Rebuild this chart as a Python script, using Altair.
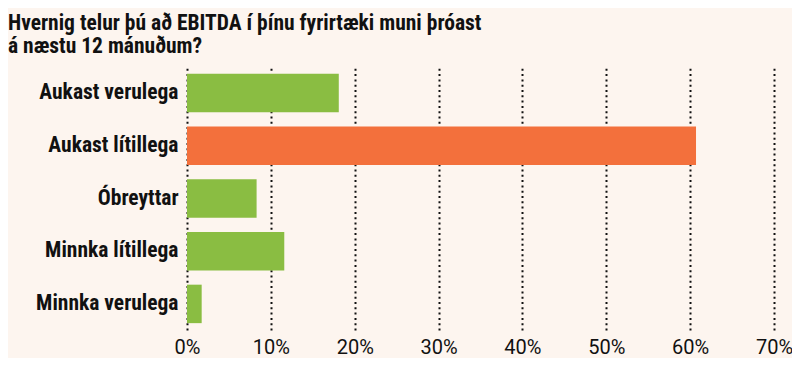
import altair as alt
import pandas as pd

categories = ["Aukast verulega", "Aukast lítillega", "Óbreyttar", "Minnka lítillega", "Minnka verulega"]
values = [0.181, 0.607, 0.083, 0.116, 0.0175]
highlight = [False, True, False, False, False]
ticks = [0, 0.1, 0.2, 0.3, 0.4, 0.5, 0.6, 0.7]
title_lines = ["Hvernig telur þú að EBITDA í þínu fyrirtæki muni þróast", "á næstu 12 mánuðum?"]

df = pd.DataFrame({"cat": categories, "val": values, "hl": highlight})

FONT = "Roboto Condensed, Roboto, sans-serif"
FONT_X = "Roboto, sans-serif"
BG = "#fdf5ef"

chart = alt.Chart(df).mark_bar().encode(
    y=alt.Y("cat:N", sort=categories, title=None,
            scale=alt.Scale(paddingInner=0.27, paddingOuter=0.13),
            axis=alt.Axis(labelFont=FONT, labelFontSize=21.5, labelFontWeight="bold",
                          labelColor="#111111", labelPadding=9, ticks=False, domain=False, grid=False)),
    x=alt.X("val:Q", title=None,
            scale=alt.Scale(domain=[0, 0.7], nice=False),
            axis=alt.Axis(values=ticks, format=".0%", labelFont=FONT_X, labelFontSize=20,
                          labelColor="#111111", labelPadding=7, ticks=False, domain=False,
                          grid=True, gridColor="#111111", gridDash=[2, 3.3], gridWidth=2,
                          labelFlush=False)),
    color=alt.Color("hl:N", scale=alt.Scale(domain=[False, True], range=["#8abd42", "#f3703c"]), legend=None),
).properties(
    width=587,
    height=263,
    autosize=alt.AutoSizeParams(type="none"),
    padding={"left": 179, "top": 59, "right": 18, "bottom": 28},
    background=BG,
    title=alt.TitleParams(text=title_lines, anchor="start", dx=-179, offset=10,
                          font=FONT, fontSize=21.5, fontWeight="bold", color="#111111",
                          lineHeight=23, frame="group"),
).configure_view(stroke=None)

chart.save("out.html", embed_options={"renderer": "svg", "actions": False})
